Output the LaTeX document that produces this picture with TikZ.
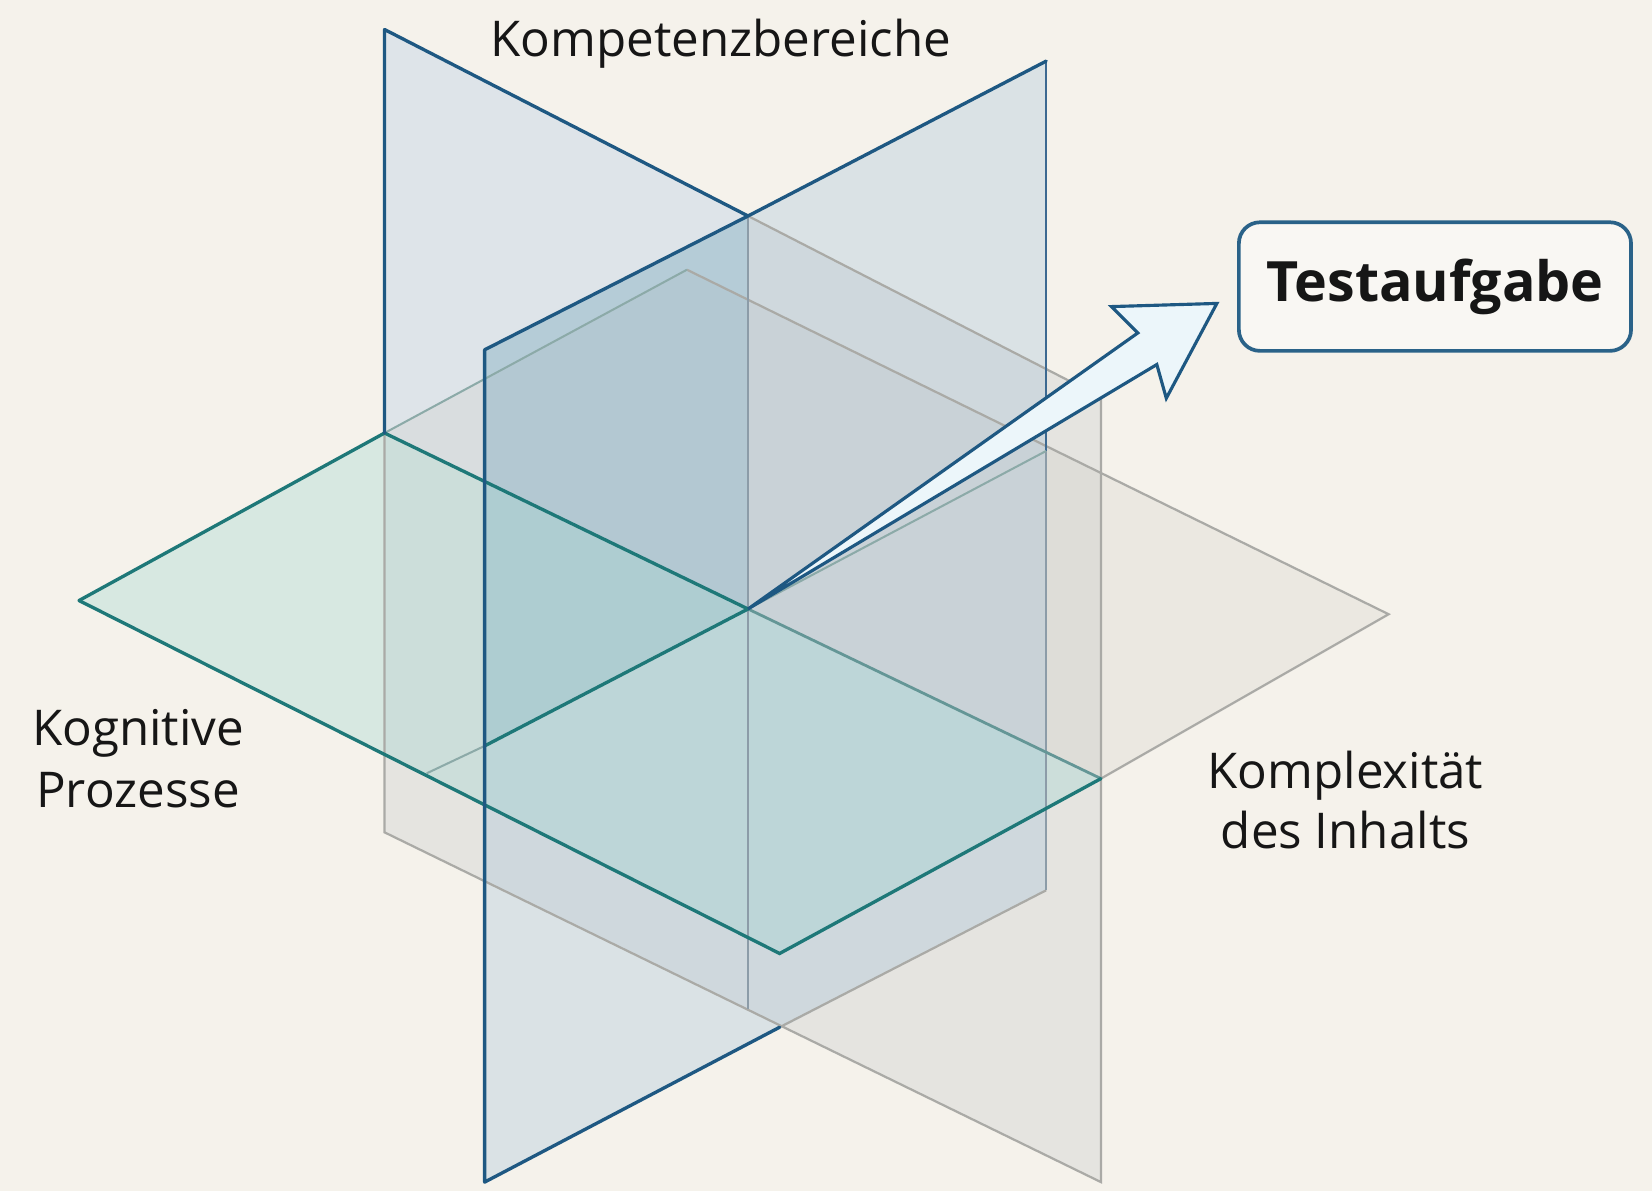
\documentclass[tikz,border=0pt]{standalone}
\usepackage{fontspec}
\setmainfont{Open Sans}
\definecolor{bgc}{RGB}{245,242,235}
\definecolor{dkblue}{RGB}{30,88,130}
\definecolor{midblue}{RGB}{60,105,145}
\definecolor{dkteal}{RGB}{30,120,120}
\definecolor{edgegray}{RGB}{170,170,166}
\definecolor{bluegray}{RGB}{140,156,168}
\definecolor{fadeteal}{RGB}{140,170,168}
\definecolor{midteal}{RGB}{100,150,150}
\definecolor{p1ul}{RGB}{222,228,233}
\definecolor{p1r}{RGB}{229,228,224}
\definecolor{p2c}{RGB}{150,185,215}
\definecolor{cenc}{RGB}{120,170,180}
\definecolor{hgray}{RGB}{200,198,192}
\definecolor{tealc}{RGB}{150,210,205}
\definecolor{arrowfill}{RGB}{236,246,250}
\definecolor{txt}{RGB}{22,22,22}
\definecolor{boxblue}{RGB}{42,98,136}
\begin{document}
\begin{tikzpicture}[x=0.01cm,y=-0.01cm,
  lbl/.style={font=\fontsize{13.3}{16}\selectfont, text=txt, inner sep=0pt, anchor=base},
  bedge/.style={draw=dkblue, line width=0.9pt, line cap=round, line join=round},
  tedge/.style={draw=dkteal, line width=0.9pt, line cap=round},
  gedge/.style={draw=edgegray, line width=0.6pt},
  bgedge/.style={draw=bluegray, line width=0.45pt},
  fedge/.style={draw=fadeteal, line width=0.55pt},
]
\fill[bgc] (0,0) rectangle (1568,1130);
\useasboundingbox (0,0) rectangle (1568,1130);
% points
\coordinate (A1) at (365,28);
\coordinate (J) at (710,205);
\coordinate (B1) at (1045,377);
\coordinate (C1) at (1045,1122);
\coordinate (D1) at (365,790);
\coordinate (K1) at (365,411);
\coordinate (C) at (710,578);
\coordinate (A2) at (993,58);
\coordinate (B2) at (460,332);
\coordinate (C2) at (460,1122);
\coordinate (D2) at (993,845);
\coordinate (X) at (740,975);
\coordinate (Q) at (460,708);
\coordinate (Q0) at (405,734);
\coordinate (E2) at (993,428);
\coordinate (L) at (75,570);
\coordinate (T) at (652,256);
\coordinate (R) at (1318,583);
\coordinate (M) at (1045,739);
\coordinate (Bt) at (740,905);
\coordinate (V) at (710,958);
% fills
\fill[p1ul] (A1) -- (J) -- (C) -- (K1) -- cycle;
\fill[p1r] (J) -- (B1) -- (C1) -- (D1) -- (K1) -- (C) -- cycle;
\fill[hgray, opacity=0.22] (K1) -- (T) -- (R) -- (M) -- cycle;
\fill[p2c, opacity=0.28] (A2) -- (B2) -- (C2) -- (D2) -- cycle;
\fill[cenc, opacity=0.24] (B2) -- (J) -- (C) -- (Q) -- cycle;
\fill[tealc, opacity=0.31] (L) -- (K1) -- (M) -- (Bt) -- cycle;
% back edges
\draw[gedge] (J) -- (B1) -- (C1) -- (D1) -- (K1);
\draw[gedge] (T) -- (R) -- (M);
\draw[gedge] (X) -- (D2);
\draw[bgedge] (J) -- (V);
\draw[bgedge] (E2) -- (D2);
\draw[draw=midblue, line width=0.7pt] (A2) -- (E2);
\draw[fedge] (K1) -- (T);
\draw[fedge] (Q0) -- (Q);
\draw[fedge] (C) -- (E2);
\draw[draw=midteal, line width=0.75pt] (C) -- (M);
% front edges
\draw[tedge] (L) -- (K1) -- (C);
\draw[tedge] (Q) -- (C);
\draw[tedge] (M) -- (Bt) -- (L);
\draw[bedge] (K1) -- (A1) -- (J);
\draw[bedge] (A2) -- (J) -- (B2) -- (C2) -- (X);
% arrow
\coordinate (NU) at (1080,316);
\coordinate (BK) at (1055,291);
\coordinate (TP) at (1155,288);
\coordinate (LW) at (1107,378);
\coordinate (NL) at (1098,346);
\filldraw[fill=arrowfill, draw=dkblue, line width=0.85pt, line join=miter]
  (C) -- (NU) -- (BK) -- (TP) -- (LW) -- (NL) -- cycle;
% labels
\node[lbl] (kb) at (684,54) {Kompetenzbereiche};
\node[lbl] (kp1) at (131,708) {Kognitive};
\node[lbl] (kp2) at (131,766) {Prozesse};
\node[lbl] (ki1) at (1277,748) {Komplexität};
\node[lbl] (ki2) at (1277,805) {des Inhalts};
\node[draw=boxblue, line width=1pt, rounded corners=0.2cm, minimum width=3.72cm, minimum height=1.22cm,
  fill=bgc!60!white, text=txt, inner sep=0pt, font=\bfseries\fontsize{15}{18}\selectfont] (ta) at (1362,272) {Testaufgabe};
\end{tikzpicture}
\end{document}
